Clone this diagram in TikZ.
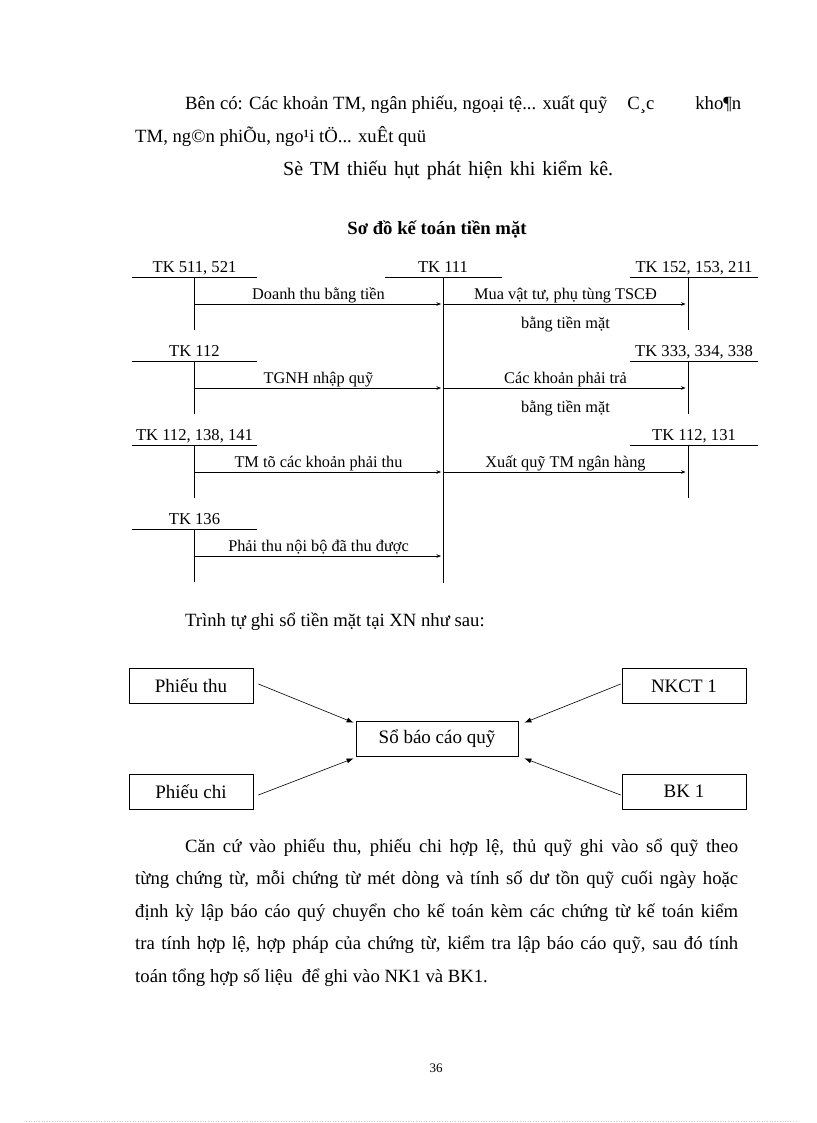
\documentclass[tikz,border=0pt]{standalone}
\usepackage{fontspec}
\setmainfont{Liberation Serif}
\usepackage{tikz}
\usetikzlibrary{arrows.meta,calc,positioning}
\tikzset{
  body/.style={font=\fontsize{18.7}{32.6}\selectfont, inner sep=0pt, anchor=base west},
  acct/.style={font=\fontsize{16.6}{19}\selectfont, inner sep=0pt, anchor=base},
  entry/.style={font=\fontsize{16.3}{19}\selectfont, inner sep=0pt, anchor=base},
  tline/.style={line width=0.7pt},
  flow/.style={-{Stealth[length=4.5pt,width=3.5pt]}, line width=0.5pt},
  docbox/.style={draw, line width=0.7pt, minimum width=124pt, minimum height=35pt, inner sep=0pt, font=\fontsize{19}{22}\selectfont},
  feed/.style={-{Latex[length=7pt,width=5pt]}, line width=0.6pt}
}
\begin{document}
\begin{tikzpicture}[x=1pt,y=-1pt]
  \useasboundingbox[fill=white] (0,0) rectangle (816,1123);

  % text above the chart
  \node[body] (bco) at (185,110) {\makebox[556pt][l]{Bên có: Các khoản TM, ngân phiếu, ngoại tệ... xuất quỹ\hspace{20pt}C¸c\hfill kho¶n}};
  \node[body] (bco2) at (135,143) {TM, ng©n phiÕu, ngo¹i tÖ... xuÊt quü};
  \node[body, font=\fontsize{20}{24}\selectfont] (thieu) at (283,175.5) {\makebox[330pt][s]{Sè TM thiếu hụt phát hiện khi kiểm kê.}};
  \node[body, anchor=base, font=\fontsize{18.7}{22}\selectfont\bfseries] (title) at (437,234) {Sơ đồ kế toán tiền mặt};

  % central account
  \coordinate (tk111-top) at (443,277.7);
  \node[acct] (tk111) at ([yshift=5.7pt]tk111-top) {TK 111};
  \draw[tline] ([xshift=-58pt]tk111-top) -- ([xshift=59pt]tk111-top);
  \draw[tline] (tk111-top) -- ++(0,305);

  % debit side accounts
  \foreach \id/\lab/\yy/\txt in {a/{TK 511, 521}/277.7/{Doanh thu bằng tiền},
      b/{TK 112}/361.7/{TGNH nhập quỹ},
      c/{TK 112, 138, 141}/445.7/{TM tõ các khoản phải thu},
      d/{TK 136}/529.7/{Phải thu nội bộ đã thu được}} {
    \coordinate (\id-top) at (194,\yy);
    \node[acct] (\id) at ([xshift=0.5pt,yshift=5.7pt]\id-top) {\lab};
    \draw[tline] ([xshift=-62pt]\id-top) -- ([xshift=63pt]\id-top);
    \draw[tline] (\id-top) -- ++(0,52.5);
    \coordinate (\id-in) at ([yshift=-26.3pt]\id-top);
    \draw[flow, shorten >=2pt] (\id-in) -- (\id-in -| tk111-top)
      node[entry, midway, yshift=5pt] {\txt};
  }

  % credit side accounts
  \foreach \id/\lab/\yy/\txt in {e/{TK 152, 153, 211}/277.7/{Mua vật tư, phụ tùng TSCĐ},
      f/{TK 333, 334, 338}/361.7/{Các khoản phải trả},
      g/{TK 112, 131}/445.7/{Xuất quỹ TM ngân hàng}} {
    \coordinate (\id-top) at (688,\yy);
    \node[acct] (\id) at ([xshift=6pt,yshift=5.7pt]\id-top) {\lab};
    \draw[tline] ([xshift=-58pt]\id-top) -- ([xshift=70pt]\id-top);
    \draw[tline] (\id-top) -- ++(0,52.5);
    \coordinate (\id-in) at ([yshift=-26.3pt]\id-top);
    \draw[flow, shorten >=2.5pt] (\id-in -| tk111-top) -- (\id-in)
      node[entry, midway, yshift=5pt] (\id-lab) {\txt};
  }
  \foreach \id in {e,f}
    \node[entry, below=29pt of \id-lab.base, anchor=base] {bằng tiền mặt};

  \node[body] (trinh) at (185,626) {Trình tự ghi sổ tiền mặt tại XN như sau:};

  % recording order
  \node[docbox] (pthu) at (191,686) {Phiếu thu};
  \node[docbox] (pchi) at (191,791.5) {Phiếu chi};
  \node[docbox] (nkct) at (684,686) {NKCT 1};
  \node[docbox] (bk) at (684,791.5) {BK 1};
  \node[docbox, minimum width=162pt] (bcq) at (437,738.5) {Sổ báo cáo quỹ};
  \draw[feed] ($(pthu.east)+(5,-2)$) -- ($(bcq.north west)+(-2,2)$);
  \draw[feed] ($(pchi.east)+(5,3.5)$) -- ($(bcq.south west)+(-2,2)$);
  \draw[feed] ($(nkct.west)+(-1,-2)$) -- ($(bcq.north east)+(6,2)$);
  \draw[feed] ($(bk.west)+(-1,3.5)$) -- ($(bcq.south east)+(6,2)$);

  \node[body, text width=603pt, align=justify] (cancu) at (135,852) {\hspace*{50pt}Căn cứ vào phiếu thu, phiếu chi hợp lệ, thủ quỹ ghi vào sổ quỹ theo\linebreak từng chứng từ, mỗi chứng từ mét dòng và tính số dư tồn quỹ cuối ngày hoặc\linebreak định kỳ lập báo cáo quý chuyển cho kế toán kèm các chứng từ kế toán kiểm\linebreak tra tính hợp lệ, hợp pháp của chứng từ, kiểm tra lập báo cáo quỹ, sau đó tính\linebreak toán tổng hợp số liệu \ để ghi vào NK1 và BK1.};

  \node[body, anchor=base, font=\fontsize{13}{15}\selectfont] (page) at (436,1072) {36};
  \draw[gray!40, dotted, line width=0.6pt] (26,1121) -- (796,1121);
\end{tikzpicture}
\end{document}
